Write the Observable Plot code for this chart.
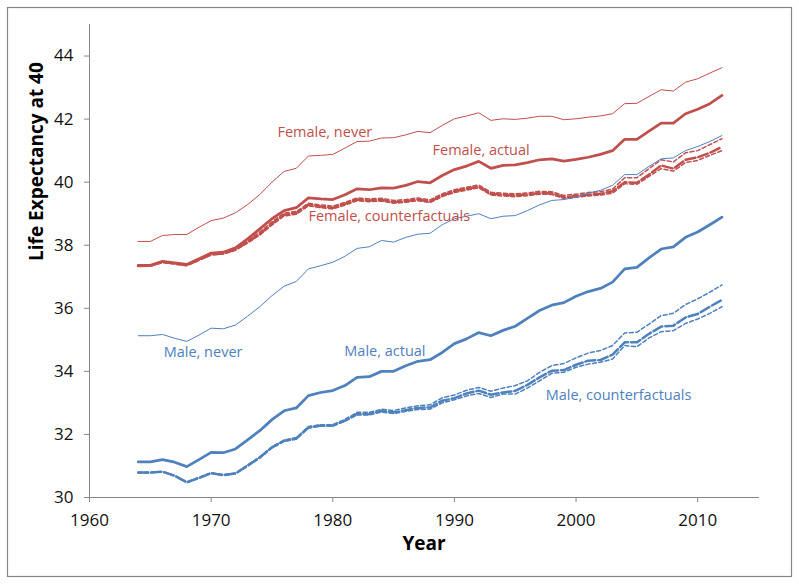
<!DOCTYPE html>
<html><head><meta charset="utf-8">
<script src="https://cdn.jsdelivr.net/npm/d3@7"></script>
<script src="https://cdn.jsdelivr.net/npm/@observablehq/plot@0.6"></script>
<style>
body{margin:0;background:#fff;}
#chart svg g[aria-label*="axis"] text{fill:#111;}
</style>
</head><body><div id="chart"></div>
<script>
const years = d3.range(1964, 2013);
const xTicks = [1960, 1970, 1980, 1990, 2000, 2010];
const yTicks = [30, 32, 34, 36, 38, 40, 42, 44];

const femaleNever = [38.12,38.12,38.31,38.34,38.34,38.57,38.78,38.86,39.03,39.29,
  39.61,40.0,40.34,40.44,40.83,40.85,40.88,41.08,41.29,41.3,
  41.4,41.41,41.5,41.61,41.57,41.8,42.01,42.1,42.2,41.96,
  42.01,41.99,42.03,42.09,42.09,41.98,42.01,42.06,42.1,42.17,
  42.49,42.5,42.72,42.93,42.89,43.17,43.28,43.46,43.63];
const femaleActual = [37.36,37.36,37.49,37.44,37.39,37.57,37.75,37.78,37.92,38.2,
  38.52,38.84,39.1,39.19,39.5,39.47,39.45,39.6,39.79,39.76,
  39.82,39.81,39.9,40.02,39.98,40.21,40.4,40.51,40.66,40.44,
  40.53,40.55,40.62,40.71,40.74,40.67,40.72,40.79,40.88,41.0,
  41.36,41.36,41.62,41.87,41.87,42.17,42.31,42.49,42.75];
const femaleCfMid = [37.34,37.35,37.47,37.42,37.37,37.54,37.71,37.74,37.86,38.1,
  38.36,38.68,38.97,39.02,39.29,39.23,39.19,39.31,39.45,39.42,
  39.44,39.37,39.4,39.45,39.39,39.58,39.71,39.79,39.86,39.63,
  39.6,39.58,39.61,39.66,39.65,39.52,39.56,39.6,39.63,39.71,
  40.0,39.98,40.24,40.53,40.43,40.71,40.79,40.93,41.12];
const femaleCfHigh = [37.36,37.36,37.48,37.43,37.38,37.55,37.73,37.76,37.89,38.15,
  38.42,38.74,39.02,39.07,39.33,39.28,39.24,39.36,39.5,39.47,
  39.49,39.42,39.45,39.5,39.44,39.63,39.76,39.84,39.91,39.68,
  39.65,39.63,39.66,39.71,39.7,39.58,39.62,39.67,39.7,39.78,
  40.14,40.14,40.43,40.71,40.64,40.93,41.0,41.19,41.38];
const femaleCfLow = [37.33,37.34,37.45,37.4,37.35,37.52,37.69,37.72,37.84,38.07,
  38.32,38.64,38.93,38.98,39.25,39.19,39.15,39.27,39.41,39.38,
  39.4,39.33,39.36,39.41,39.35,39.54,39.67,39.75,39.82,39.59,
  39.56,39.54,39.57,39.62,39.61,39.48,39.52,39.56,39.59,39.65,
  39.95,39.93,40.18,40.43,40.35,40.62,40.69,40.85,41.0];

const maleNever = [35.13,35.13,35.17,35.05,34.95,35.15,35.37,35.35,35.47,35.75,
  36.05,36.4,36.7,36.85,37.25,37.35,37.46,37.65,37.9,37.95,
  38.15,38.1,38.25,38.35,38.38,38.65,38.84,38.92,39.0,38.84,
  38.92,38.94,39.1,39.28,39.42,39.45,39.52,39.65,39.74,39.9,
  40.24,40.24,40.5,40.74,40.77,41.0,41.13,41.29,41.48];
const maleActual = [31.13,31.13,31.2,31.12,30.98,31.2,31.43,31.42,31.54,31.83,
  32.12,32.47,32.75,32.84,33.23,33.33,33.39,33.55,33.81,33.83,
  34.0,34.0,34.18,34.32,34.37,34.6,34.88,35.03,35.23,35.13,
  35.3,35.43,35.68,35.93,36.1,36.18,36.38,36.53,36.63,36.83,
  37.25,37.3,37.6,37.88,37.95,38.25,38.42,38.65,38.89];
const maleCfMid = [30.79,30.79,30.82,30.69,30.48,30.62,30.77,30.71,30.76,31.01,
  31.27,31.59,31.8,31.87,32.22,32.28,32.28,32.44,32.65,32.65,
  32.75,32.7,32.77,32.84,32.86,33.07,33.15,33.3,33.39,33.26,
  33.33,33.38,33.57,33.81,34.02,34.04,34.21,34.34,34.36,34.53,
  34.92,34.92,35.19,35.42,35.45,35.71,35.82,36.05,36.27];
const maleCfHigh = [30.8,30.8,30.83,30.7,30.5,30.64,30.79,30.73,30.78,31.03,
  31.29,31.61,31.82,31.9,32.25,32.31,32.31,32.48,32.7,32.7,
  32.8,32.76,32.84,32.91,32.94,33.16,33.25,33.4,33.49,33.37,
  33.47,33.55,33.7,33.97,34.18,34.25,34.43,34.58,34.66,34.82,
  35.22,35.24,35.5,35.77,35.84,36.12,36.3,36.51,36.74];
const maleCfLow = [30.78,30.78,30.81,30.68,30.47,30.61,30.76,30.7,30.75,30.99,
  31.25,31.57,31.78,31.85,32.2,32.26,32.26,32.42,32.62,32.62,
  32.71,32.66,32.73,32.79,32.8,33.0,33.1,33.22,33.3,33.17,
  33.28,33.28,33.47,33.7,33.94,33.97,34.13,34.23,34.29,34.39,
  34.82,34.78,35.06,35.26,35.29,35.52,35.66,35.84,36.05];

const labelTexts = ["Female, never", "Female, actual", "Female, counterfactuals", "Male, never", "Male, actual", "Male, counterfactuals"];
const labelYears = [1975.45, 1988.2, 1978.0, 1966.1, 1980.95, 1997.5];
const labelValues = [41.58, 41.0, 38.91, 34.6, 34.63, 33.24];
const labelSex = ["F", "F", "F", "M", "M", "M"];

const RED = "#C0504D", BLUE = "#4F81BD", GREY = "#868686";
const THIN_DASH = "4,2.5", LONG_DASH = "10,3";

const series = [
  {key: "fn", values: femaleNever, color: RED, w: 1, dash: null},
  {key: "fcl", values: femaleCfLow, color: RED, w: 1.5, dash: THIN_DASH},
  {key: "fch", values: femaleCfHigh, color: RED, w: 1.5, dash: THIN_DASH},
  {key: "fcm", values: femaleCfMid, color: RED, w: 2.5, dash: LONG_DASH},
  {key: "fa", values: femaleActual, color: RED, w: 2.75, dash: null},
  {key: "mn", values: maleNever, color: BLUE, w: 1, dash: null},
  {key: "mcl", values: maleCfLow, color: BLUE, w: 1.5, dash: THIN_DASH},
  {key: "mch", values: maleCfHigh, color: BLUE, w: 1.5, dash: THIN_DASH},
  {key: "mcm", values: maleCfMid, color: BLUE, w: 2.5, dash: LONG_DASH},
  {key: "ma", values: maleActual, color: BLUE, w: 2.75, dash: null}
];

const lineMarks = series.map(s => Plot.line(
  s.values.map((v, i) => ({year: years[i], value: v})),
  {x: "year", y: "value", stroke: s.color, strokeWidth: s.w, strokeDasharray: s.dash, strokeLinejoin: "round"}
));

const labels = labelTexts.map((t, i) => ({text: t, year: labelYears[i], value: labelValues[i], color: labelSex[i] === "F" ? RED : BLUE}));

const chart = Plot.plot({
  width: 799,
  height: 584,
  marginLeft: 89,
  marginRight: 41,
  marginTop: 24,
  marginBottom: 87,
  style: {fontFamily: "'Open Sans', sans-serif", fontSize: "17px", color: GREY, background: "#fff", overflow: "visible"},
  x: {domain: [1960, 2015], ticks: xTicks, tickFormat: d => String(d), tickSize: 5, tickPadding: 11, label: null, line: true},
  y: {domain: [30, 45], ticks: yTicks, tickSize: 5, tickPadding: 11, label: null, line: true},
  marks: [
    ...lineMarks,
    Plot.text(labels, {x: "year", y: "value", text: "text", fill: "color", textAnchor: "start", fontSize: 14.5}),
    Plot.text(["Year"], {frameAnchor: "bottom", dy: 52, fontWeight: "bold", fontSize: 19, fill: "#000"}),
    Plot.text(["Life Expectancy at 40"], {frameAnchor: "left", dx: -53, rotate: -90, fontWeight: "bold", fontSize: 19, fill: "#000"})
  ]
});

d3.select(chart).insert("rect", ":first-child")
  .attr("x", 7.5).attr("y", 7.5).attr("width", 784).attr("height", 569)
  .attr("fill", "#fff").attr("stroke", GREY).attr("stroke-width", 1.2);

document.getElementById("chart").appendChild(chart);
</script>
</body></html>
